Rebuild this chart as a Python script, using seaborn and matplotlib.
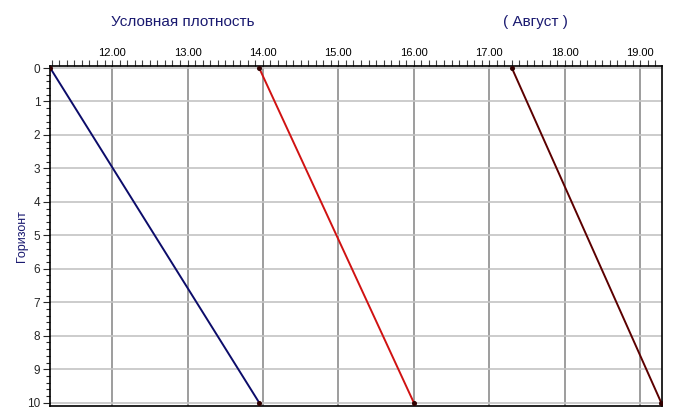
import pandas as pd
import matplotlib
matplotlib.use("Agg")
import matplotlib.pyplot as plt
import seaborn as sns
from matplotlib.ticker import MultipleLocator, FormatStrFormatter

# ---------------------------------------------------------
#                 DATA
# ---------------------------------------------------------

depth = [0, 10]
density_a = [11.18, 13.95]
density_b = [13.95, 16.00]
density_c = [17.30, 19.28]

series_names = ["A", "B", "C"]
series_colors = ["#0c0c6a", "#d01212", "#5c0000"]

df = pd.concat(
    [
        pd.DataFrame({"Горизонт": depth, "Плотность": vals, "series": name})
        for name, vals in zip(series_names, [density_a, density_b, density_c])
    ],
    ignore_index=True,
)

# ---------------------------------------------------------
#                      PLOT
# ---------------------------------------------------------

sns.set_style("white")
plt.rcParams["font.family"] = ["Liberation Sans", "DejaVu Sans"]

fig = plt.figure(figsize=(6.75, 4.19), dpi=100)
ax = fig.add_axes([0.0741, 0.031, 0.9066, 0.8115])

sns.lineplot(
    data=df, x="Плотность", y="Горизонт", hue="series",
    palette=series_colors, sort=False, estimator=None,
    linewidth=1.4, legend=False, ax=ax,
)
# dots at the ends in a dark tone
for vals in [density_a, density_b, density_c]:
    ax.plot(vals, depth, "o", color="#300000", markersize=2.6, zorder=5)

ax.set_xlim(11.177, 19.29)
ax.set_ylim(10.1, -0.06)

ax.xaxis.tick_top()
ax.xaxis.set_major_locator(MultipleLocator(1))
ax.xaxis.set_minor_locator(MultipleLocator(0.1))
ax.xaxis.set_major_formatter(FormatStrFormatter("%.2f"))
ax.yaxis.set_major_locator(MultipleLocator(1))
ax.yaxis.set_minor_locator(MultipleLocator(0.2))

ax.tick_params(axis="x", which="both", top=True, bottom=False, direction="out",
               length=4, width=0.8, colors="#404040", labelcolor="black",
               labelsize=8, pad=2)
ax.tick_params(axis="y", which="major", left=True, direction="out",
               length=5, width=0.8, labelsize=8.5, pad=2)
ax.tick_params(axis="y", which="minor", left=True, direction="out",
               length=3, width=0.8)

ax.grid(False)
ax.xaxis.grid(True, which="major", color="#8c8c8c", linewidth=1.2)
ax.yaxis.grid(True, which="major", color="#c4c4c4", linewidth=1.2)
ax.set_axisbelow(True)

for side in ["left", "right", "top", "bottom"]:
    ax.spines[side].set_visible(True)
    ax.spines[side].set_color("black")
    ax.spines[side].set_linewidth(1.2)

ax.set_xlabel("")
ax.set_ylabel("Горизонт", color="#1a1a70", fontsize=9)
ax.yaxis.set_label_coords(-0.036, 0.5)

fig.text(0.271, 0.947, "Условная плотность", color="#1a1a70", fontsize=11,
         ha="center", va="center")
fig.text(0.793, 0.947, "( Август )", color="#1a1a70", fontsize=11,
         ha="center", va="center")

fig.savefig("out.png", dpi=100)
